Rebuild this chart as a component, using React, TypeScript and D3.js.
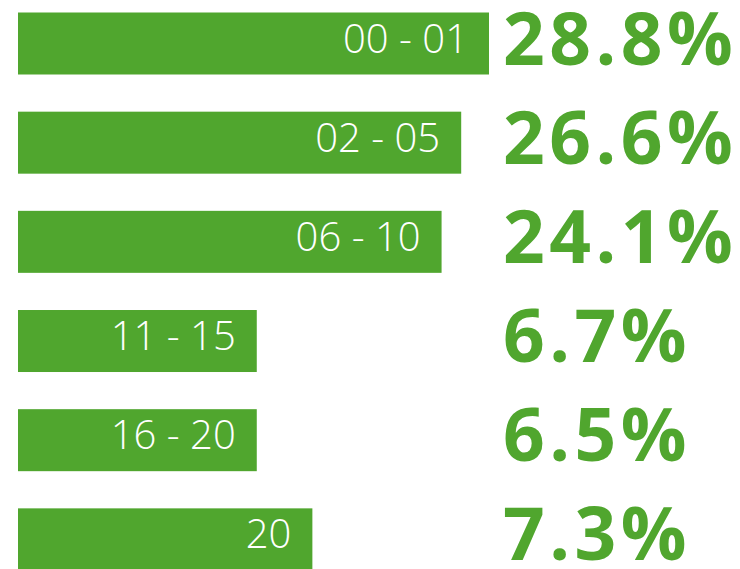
import React from "react";
import * as d3 from "d3";

const categories = ["00 - 01", "02 - 05", "06 - 10", "11 - 15", "16 - 20", "20"];
const percentValues = [28.8, 26.6, 24.1, 6.7, 6.5, 7.3];
const barLengths = [28.8, 27.1, 25.9, 14.6, 14.6, 18.0];

const W = 740;
const H = 569;
const GREEN = "#50A62E";

export default function App() {
  const x = d3.scaleLinear().domain([0, 28.8]).range([0, 471]);
  const step = 99.17;
  const barH = 62;
  const y = d3
    .scaleBand<string>()
    .domain(categories)
    .range([12.5, 12.5 + 5 * step + barH])
    .paddingInner((step - barH) / step)
    .paddingOuter(0);
  const x0 = 18;
  const fmt = d3.format(".1f");
  return (
    <svg
      width={W}
      height={H}
      style={{ position: "absolute", left: 0, top: 0, background: "#fff" }}
    >
      {categories.map((c, i) => {
        const top = y(c) as number;
        const w = x(barLengths[i]);
        return (
          <g key={c}>
            <rect x={x0} y={top} width={w} height={y.bandwidth()} fill={GREEN} />
            <text
              x={x0 + w - 21}
              y={top + 40}
              textAnchor="end"
              fill="#fff"
              fontFamily="'Open Sans', 'Noto Sans', sans-serif"
              fontWeight={300}
              fontSize={40}
            >
              {c}
            </text>
            <text
              x={503}
              y={top + 52}
              fill={GREEN}
              fontFamily="'Open Sans', 'Noto Sans', sans-serif"
              fontWeight={700}
              fontSize={73}
              letterSpacing={4.5}
            >
              {fmt(percentValues[i]) + "%"}
            </text>
          </g>
        );
      })}
    </svg>
  );
}
